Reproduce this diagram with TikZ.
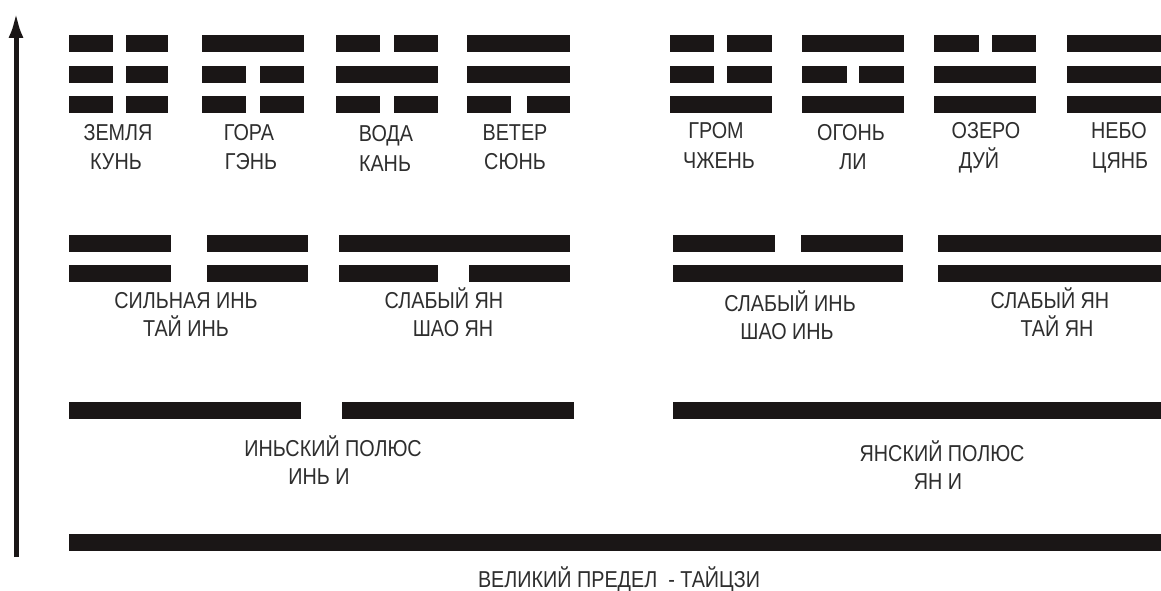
\documentclass[tikz,border=0pt]{standalone}
\usepackage{fontspec}
\newfontfamily\lblfont[FakeStretch=0.86]{Liberation Sans}
\usetikzlibrary{arrows.meta}
\definecolor{barcol}{HTML}{1A1616}
\definecolor{txtcol}{HTML}{2E2E2E}
\tikzset{
  bar/.style={fill=barcol},
  lbl/.style={font=\lblfont\fontsize{23}{27}\selectfont, text=txtcol, anchor=base, inner sep=0pt},
  axis/.style={draw=barcol, line width=5pt, -{Latex[length=26pt,width=15pt]}}
}
% solid line: \yangbar{x1}{x2}{centre y}; broken line: \yinbar{x1}{x2}{x3}{x4}{centre y}
\newcommand{\yangbar}[3]{\fill[bar] (#1,#3-8.5) rectangle (#2,#3+8.5);}
\newcommand{\yinbar}[5]{\fill[bar] (#1,#5-8.5) rectangle (#2,#5+8.5);\fill[bar] (#3,#5-8.5) rectangle (#4,#5+8.5);}
\begin{document}
\begin{tikzpicture}[x=1pt,y=-1pt]
\useasboundingbox[fill=white] (0,0) rectangle (1161,591);

% vertical axis
\coordinate (abot) at (16,557);
\coordinate (atop) at (16,12);
\draw[axis] (abot) -- (atop);

% ---- trigrams ----
% Earth (kun)
\yinbar{69}{113}{126}{168}{44}
\yinbar{69}{113}{126}{168}{74.5}
\yinbar{69}{113}{126}{168}{105}
% Mountain (gen)
\yangbar{202}{304}{44}
\yinbar{202}{246}{260}{304}{74.5}
\yinbar{202}{246}{260}{304}{105}
% Water (kan)
\yinbar{336}{380}{394}{438}{44}
\yangbar{336}{438}{74.5}
\yinbar{336}{380}{394}{438}{105}
% Wind (sun)
\yangbar{467}{570}{44}
\yangbar{467}{570}{74.5}
\yinbar{467}{511}{527}{570}{105}
% Thunder (zhen)
\yinbar{670}{714}{727}{772}{44}
\yinbar{670}{714}{727}{772}{74.5}
\yangbar{670}{772}{105}
% Fire (li)
\yangbar{802}{904}{44}
\yinbar{802}{847}{859}{904}{74.5}
\yangbar{802}{904}{105}
% Lake (dui)
\yinbar{934}{979}{992}{1036}{44}
\yangbar{934}{1036}{74.5}
\yangbar{934}{1036}{105}
% Heaven (qian)
\yangbar{1067}{1161}{44}
\yangbar{1067}{1161}{74.5}
\yangbar{1067}{1161}{105}

\node[lbl] (t1a) at (118,140) {ЗЕМЛЯ};
\node[lbl] (t1b) at (116,169) {КУНЬ};
\node[lbl] (t2a) at (249,140) {ГОРА};
\node[lbl] (t2b) at (251,169) {ГЭНЬ};
\node[lbl] (t3a) at (386,142) {ВОДА};
\node[lbl] (t3b) at (385,171) {КАНЬ};
\node[lbl] (t4a) at (515,140) {ВЕТЕР};
\node[lbl] (t4b) at (515,169) {СЮНЬ};
\node[lbl] (t5a) at (716,139) {ГРОМ};
\node[lbl] (t5b) at (719,168) {ЧЖЕНЬ};
\node[lbl] (t6a) at (851,140) {ОГОНЬ};
\node[lbl] (t6b) at (853,169) {ЛИ};
\node[lbl] (t7a) at (986,139) {ОЗЕРО};
\node[lbl] (t7b) at (979,168) {ДУЙ};
\node[lbl] (t8a) at (1119,139) {НЕБО};
\node[lbl] (t8b) at (1120,168) {ЦЯНБ};

% ---- four images ----
\yinbar{69}{171}{207}{308}{243.5}
\yinbar{69}{171}{207}{308}{273.5}
\yangbar{339}{570}{243.5}
\yinbar{339}{438}{469}{570}{273.5}
\yinbar{673}{775}{801}{903}{243.5}
\yangbar{673}{903}{273.5}
\yangbar{938}{1161}{243.5}
\yangbar{938}{1161}{273.5}

\node[lbl] (s1a) at (186,308) {СИЛЬНАЯ ИНЬ};
\node[lbl] (s1b) at (186,336) {ТАЙ ИНЬ};
\node[lbl] (s2a) at (444,308) {СЛАБЫЙ ЯН};
\node[lbl] (s2b) at (453,336) {ШАО ЯН};
\node[lbl] (s3a) at (790,311) {СЛАБЫЙ ИНЬ};
\node[lbl] (s3b) at (787,339) {ШАО ИНЬ};
\node[lbl] (s4a) at (1050,308) {СЛАБЫЙ ЯН};
\node[lbl] (s4b) at (1057,336) {ТАЙ ЯН};

% ---- two poles ----
\yinbar{69}{301}{342}{574}{410}
\yangbar{673}{1161}{410}

\node[lbl] (p1a) at (333,456) {ИНЬСКИЙ ПОЛЮС};
\node[lbl] (p1b) at (319,484) {ИНЬ И};
\node[lbl] (p2a) at (942,461) {ЯНСКИЙ ПОЛЮС};
\node[lbl] (p2b) at (938,489) {ЯН И};

% ---- supreme ultimate ----
\yangbar{69}{1161}{542}
\node[lbl] (tj) at (619,587) {ВЕЛИКИЙ ПРЕДЕЛ\ \ - ТАЙЦЗИ};
\end{tikzpicture}
\end{document}
